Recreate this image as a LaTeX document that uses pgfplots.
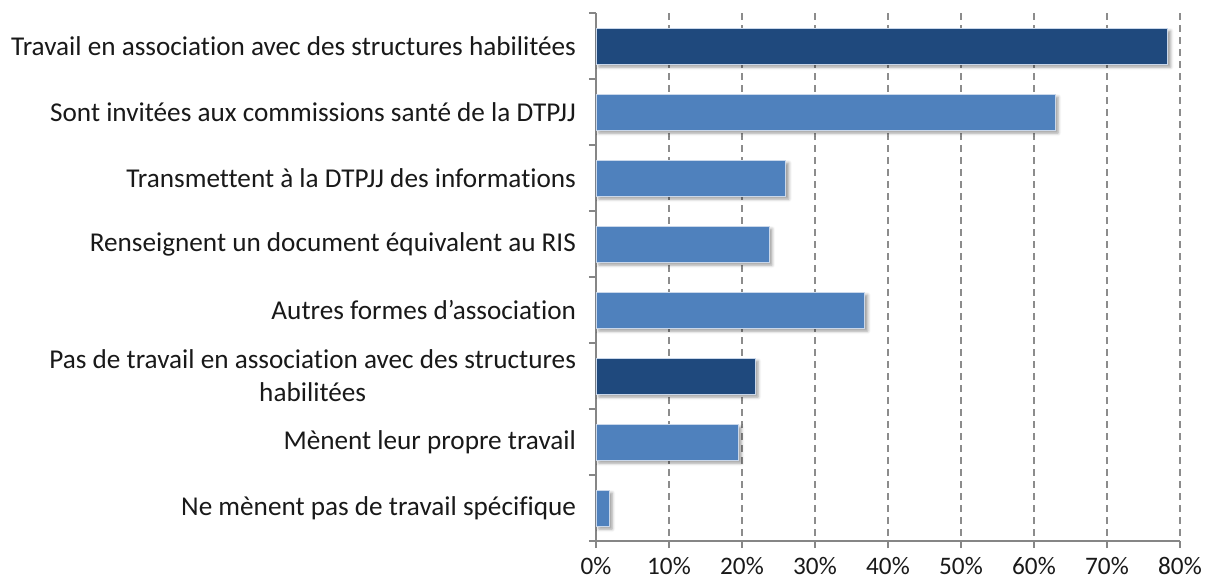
\documentclass[border=0pt]{standalone}
\usepackage{fontspec}
\setmainfont{Carlito}[Ligatures=NoCommon]
\usepackage{pgfplots}
\pgfplotsset{compat=1.18}
\usetikzlibrary{shadows.blur}
\definecolor{bardark}{HTML}{1F497D}
\definecolor{barlight}{HTML}{4F81BD}
\definecolor{axisgray}{HTML}{868686}
\definecolor{gridgray}{HTML}{8C8C8C}
\definecolor{barline}{HTML}{C9D7EA}
\begin{document}
\begin{tikzpicture}
% cadre fixe : 1 px de la reference = 0.5 pt
\path[use as bounding box] (-298pt,-21.5pt) rectangle (305pt,270.5pt);
\begin{axis}[
    scale only axis,
    width=292pt, height=264pt,
    xbar, bar width=18pt,
    xmin=0, xmax=80,
    ymin=-0.5, ymax=7.5,
    y dir=reverse,
    axis x line*=bottom,
    axis y line*=left,
    axis line style={draw=axisgray, line width=0.75pt},
    tick align=outside,
    major tick length=3.5pt,
    tick style={draw=axisgray, line width=0.75pt},
    xtick={0,10,...,80},
    xticklabels={0\%,10\%,20\%,30\%,40\%,50\%,60\%,70\%,80\%},
    xmajorgrids=true,
    grid style={draw=gridgray, line width=0.6pt, dash pattern=on 3.5pt off 2.5pt},
    % bornes des categories : petits traits sur l'axe vertical
    ytick={-0.5,0.5,...,7.5},
    yticklabels={},
    extra y ticks={0,1,2,3,4,5,6,7},
    extra y tick labels={
        {Travail en association avec des structures habilitées},
        {Sont invitées aux commissions santé de la DTPJJ},
        {Transmettent à la DTPJJ des informations},
        {Renseignent un document équivalent au RIS},
        {Autres formes d’association},
        {Pas de travail en association avec des structures\\habilitées},
        {Mènent leur propre travail},
        {Ne mènent pas de travail spécifique}},
    extra y tick style={major tick length=0pt, ymajorgrids=false},
    yticklabel style={align=center, xshift=-6.5pt, text=black!90,
        font=\fontsize{13.6}{16.5}\selectfont},
    xticklabel style={yshift=-3.5pt, text=black!90, inner sep=1pt,
        font=\fontsize{12.6}{15}\selectfont},
]
\addplot[fill=bardark, draw=barline, line width=0.4pt, bar shift=0pt,
    blur shadow={shadow xshift=1.5pt, shadow yshift=-1.5pt, shadow blur radius=1.5pt, shadow opacity=40}]
    coordinates {(78.3,0) (21.8,5)};
\addplot[fill=barlight, draw=barline, line width=0.4pt, bar shift=0pt,
    blur shadow={shadow xshift=1.5pt, shadow yshift=-1.5pt, shadow blur radius=1.5pt, shadow opacity=40}]
    coordinates {(62.9,1) (26,2) (23.7,3) (36.8,4) (19.5,6) (1.8,7)};
\end{axis}
\end{tikzpicture}
\end{document}
